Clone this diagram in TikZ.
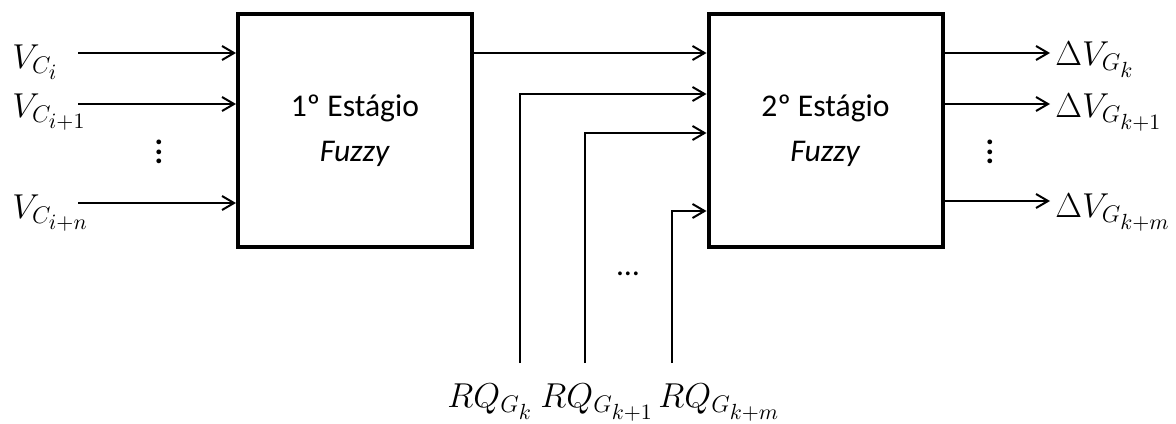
\documentclass[tikz,border=0pt]{standalone}
\usepackage{fontspec}
\setmainfont{Carlito}
\DeclareMathSizes{17}{17}{13}{10.5}
\usetikzlibrary{positioning,arrows.meta,calc}

\begin{document}
\begin{tikzpicture}[
  x=0.5pt,y=-0.5pt,
  stage/.style={draw,line width=2pt,minimum width=117pt,minimum height=116.5pt,
                align=center,inner sep=0pt,font=\fontsize{15.8}{22.5}\selectfont},
  lbl/.style={inner sep=0pt,font=\fontsize{17}{20}\selectfont},
  vdot/.style={inner sep=0pt,align=center,font=\fontsize{16}{4.8}\bfseries},
  dots/.style={inner sep=0pt,font=\fontsize{15.8}{18}\selectfont},
  lnk/.style={-{Straight Barb[length=6pt,width=7pt]},line width=1pt}
]
\useasboundingbox (0,0) rectangle (1176,423);
% the two stages
\node[stage] (st1) at (355,130.5) {1º Estágio\\\textit{Fuzzy}};
\node[stage] (st2) at (825.5,130.5) {2º Estágio\\\textit{Fuzzy}};

% inputs of the first stage
\node[lbl,anchor=base west] (vc1) at (12,68)  {$V_{C_i}$};
\node[lbl,anchor=base west] (vc2) at (12,117) {$V_{C_{i+1}}$};
\node[lbl,anchor=base west] (vc3) at (12,218) {$V_{C_{i+n}}$};
\node[vdot] (vd1) at (159,152) {.\\.\\.};
\foreach \y [count=\i] in {53,104,203} {
  \coordinate (in\i) at (78,\y);
  \draw[lnk] (in\i) -- (in\i -| st1.west);
}

% first stage to second stage
\draw[lnk] (st1.east |- in1) -- (st2.west |- in1);

% reactive power inputs
\node[lbl,anchor=base west] (rq1) at (447,407) {$RQ_{G_k}$};
\node[lbl,anchor=base west] (rq2) at (540,407) {$RQ_{G_{k+1}}$};
\node[lbl,anchor=base west] (rq3) at (658,407) {$RQ_{G_{k+m}}$};
\node[dots] (hd) at (628,274) {\ldots};
\foreach \x/\y [count=\i] in {520/94,585/133,672/211} {
  \coordinate (q\i) at (\x,363);
  \draw[lnk] (q\i) |- (st2.west |- 0,\y);
}

% outputs of the second stage
\node[lbl,anchor=base west] (dv1) at (1055,65)  {$\Delta V_{G_k}$};
\node[lbl,anchor=base west] (dv2) at (1055,117) {$\Delta V_{G_{k+1}}$};
\node[lbl,anchor=base west] (dv3) at (1055,217) {$\Delta V_{G_{k+m}}$};
\node[vdot] (vd2) at (990,152) {.\\.\\.};
\foreach \y [count=\i] in {53,104,201} {
  \coordinate (out\i) at (1050,\y);
  \draw[lnk] (out\i -| st2.east) -- (out\i);
}
\end{tikzpicture}
\end{document}
